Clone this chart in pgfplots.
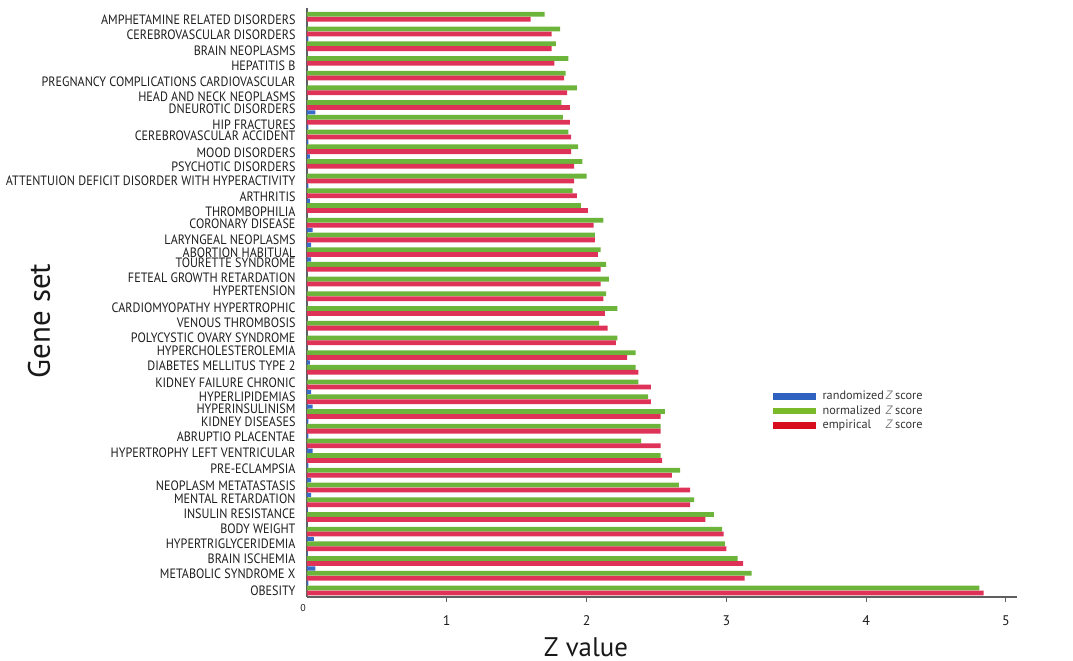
\documentclass[border=0pt]{standalone}
\usepackage{fontspec}
\setmainfont{PT Sans}
\newfontfamily\labelfont[FakeStretch=0.895]{PT Sans}
\usepackage{pgfplots}
\pgfplotsset{compat=1.18}
\definecolor{zblue}{RGB}{58,106,200}
\definecolor{zgreen}{RGB}{108,180,58}
\definecolor{zred}{RGB}{222,50,88}
\definecolor{legblue}{RGB}{47,98,192}
\definecolor{leggreen}{RGB}{122,186,40}
\definecolor{legred}{RGB}{214,14,30}
\definecolor{axisgray}{RGB}{95,95,95}
\definecolor{labelgray}{RGB}{30,30,30}
\begin{document}
\begin{tikzpicture}
\useasboundingbox (-307bp,-64bp) rectangle (766bp,597bp);
\begin{axis}[
  at={(0,0)}, anchor=south west,
  scale only axis, width=710bp, height=589bp,
  xmin=0, xmax=5.079, ymin=-0.61, ymax=39.43,
  axis x line*=bottom, axis y line*=left,
  axis line style={-, draw=axisgray, line width=1.5bp},
  /pgf/number format/assume math mode=true,
  xtick={1,2,3,4,5},
  extra x ticks={0},
  extra x tick style={major tick length=0pt, xticklabel style={font=\fontsize{10}{10}\selectfont, yshift=6bp, xshift=-4bp}},
  tick align=outside, major tick length=5bp,
  x tick style={draw=axisgray, line width=1bp},
  xticklabel style={font=\fontsize{14}{14}\selectfont, text=labelgray, yshift=-10bp},
  ytick={-0.18,0.97,1.97,2.99,4.01,5.03,6.05,6.94,8.09,9.18,10.29,11.29,12.17,13.01,13.96,15.09,16.13,17.00,18.02,19.04,20.21,21.08,22.12,22.80,23.66,24.75,25.56,26.60,27.67,28.64,29.59,30.73,31.48,32.56,33.40,34.42,35.51,36.53,37.60,38.62},
  yticklabels={OBESITY,METABOLIC SYNDROME X,BRAIN ISCHEMIA,HYPERTRIGLYCERIDEMIA,BODY WEIGHT,INSULIN RESISTANCE,MENTAL RETARDATION,NEOPLASM METATASTASIS,PRE-ECLAMPSIA,HYPERTROPHY LEFT VENTRICULAR,ABRUPTIO PLACENTAE,KIDNEY DISEASES,HYPERINSULINISM,HYPERLIPIDEMIAS,KIDNEY FAILURE CHRONIC,DIABETES MELLITUS TYPE 2,HYPERCHOLESTEROLEMIA,POLYCYSTIC OVARY SYNDROME,VENOUS THROMBOSIS,CARDIOMYOPATHY HYPERTROPHIC,HYPERTENSION,FETEAL GROWTH RETARDATION,TOURETTE SYNDROME,ABORTION HABITUAL,LARYNGEAL NEOPLASMS,CORONARY DISEASE,THROMBOPHILIA,ARTHRITIS,ATTENTUION DEFICIT DISORDER WITH HYPERACTIVITY,PSYCHOTIC DISORDERS,MOOD DISORDERS,CEREBROVASCULAR ACCIDENT,HIP FRACTURES,DNEUROTIC DISORDERS,HEAD AND NECK NEOPLASMS,PREGNANCY COMPLICATIONS CARDIOVASCULAR,HEPATITIS B,BRAIN NEOPLASMS,CEREBROVASCULAR DISORDERS,AMPHETAMINE RELATED DISORDERS},
  y tick style={draw=none},
  yticklabel style={font=\labelfont\fontsize{13.6}{14}\selectfont, text=labelgray, inner ysep=0pt, xshift=-3bp},
  xlabel={Z value},
  xlabel style={at={(axis description cs:0.393,0)}, anchor=base, inner sep=0pt, yshift=-59bp, font=\fontsize{27}{27}\selectfont, text=black!90},
  ylabel={Gene set},
  ylabel style={at={(axis description cs:-0.3775,0.4686)}, anchor=center, font=\fontsize{31}{31}\selectfont, text=black!90},
  legend style={draw=none, fill=none, at={(axis description cs:0.6563,0.3514)}, anchor=north west,
    font=\fontsize{12.3}{12.3}\selectfont, inner sep=0pt, row sep=2.3bp, nodes={inner sep=1bp, text=black!80}},
  legend cell align=left,
]
% randomized Z score (blue), top bar of each group
\addplot[xbar, bar width=4.2bp, bar shift=4.9bp, fill=zblue, draw=none, forget plot] coordinates {
(0.01,0) (0.06,1) (0.005,2) (0.05,3) (0.0,4) (0.005,5) (0.03,6) (0.03,7) (0.01,8) (0.04,9)
(0.01,10) (0.01,11) (0.04,12) (0.03,13) (0.0,14) (0.02,15) (0.0,16) (0.0,17) (0.0,18) (0.0,19)
(0.0,20) (0.0,21) (0.03,22) (0.03,23) (0.04,24) (0.0,25) (0.02,26) (0.01,27) (0.0,28) (0.02,29)
(0.01,30) (0.01,31) (0.06,32) (0.0,33) (0.0,34) (0.0,35) (0.0,36) (0.01,37) (0.0,38) (0.0,39)
};
% normalized Z score (green)
\addplot[xbar, bar width=4.8bp, bar shift=0bp, fill=zgreen, draw=none, forget plot] coordinates {
(4.81,0) (3.18,1) (3.08,2) (2.99,3) (2.97,4) (2.91,5) (2.77,6) (2.66,7) (2.67,8) (2.53,9)
(2.39,10) (2.53,11) (2.56,12) (2.44,13) (2.37,14) (2.35,15) (2.35,16) (2.22,17) (2.09,18) (2.22,19)
(2.14,20) (2.16,21) (2.14,22) (2.10,23) (2.06,24) (2.12,25) (1.96,26) (1.90,27) (2.00,28) (1.97,29)
(1.94,30) (1.87,31) (1.83,32) (1.82,33) (1.93,34) (1.85,35) (1.87,36) (1.78,37) (1.81,38) (1.70,39)
};
% empirical Z score (red)
\addplot[xbar, bar width=4.8bp, bar shift=-4.9bp, fill=zred, draw=none, forget plot] coordinates {
(4.84,0) (3.13,1) (3.12,2) (3.00,3) (2.98,4) (2.85,5) (2.74,6) (2.74,7) (2.61,8) (2.54,9)
(2.53,10) (2.53,11) (2.53,12) (2.46,13) (2.46,14) (2.37,15) (2.29,16) (2.21,17) (2.15,18) (2.13,19)
(2.12,20) (2.10,21) (2.10,22) (2.08,23) (2.06,24) (2.05,25) (2.01,26) (1.93,27) (1.91,28) (1.91,29)
(1.89,30) (1.89,31) (1.88,32) (1.88,33) (1.86,34) (1.84,35) (1.77,36) (1.75,37) (1.75,38) (1.60,39)
};
\addlegendimage{legend image code/.code={\fill[legblue] (0bp,-2.7bp) rectangle (42bp,2.7bp); \path (48bp,0bp);}}
\addlegendentry{\makebox[63bp][l]{randomized}{\itshape\color{gray}Z} score}
\addlegendimage{legend image code/.code={\fill[leggreen] (0bp,-2.7bp) rectangle (42bp,2.7bp); \path (48bp,0bp);}}
\addlegendentry{\makebox[63bp][l]{normalized}{\itshape\color{gray}Z} score}
\addlegendimage{legend image code/.code={\fill[legred] (0bp,-2.7bp) rectangle (42bp,2.7bp); \path (48bp,0bp);}}
\addlegendentry{\makebox[63bp][l]{empirical}{\itshape\color{gray}Z} score}
\end{axis}
\end{tikzpicture}
\end{document}
